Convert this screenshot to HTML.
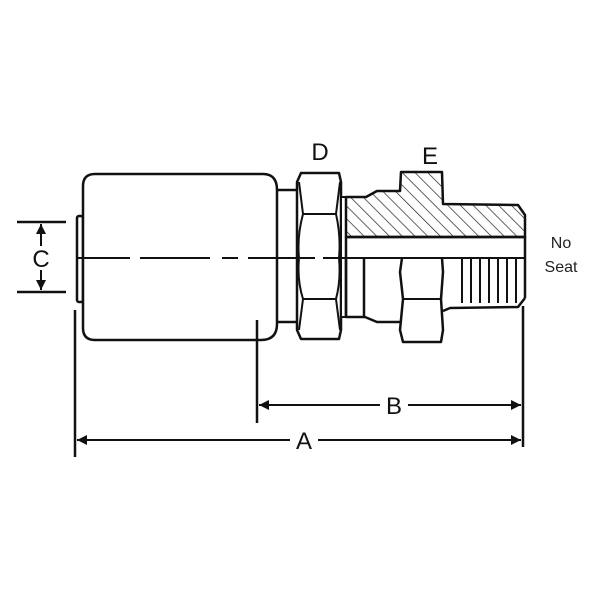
<!DOCTYPE html>
<html><head><style>body{margin:0;background:#fff}svg{display:block}</style></head><body>
<svg width="600" height="600" viewBox="0 0 600 600" xmlns="http://www.w3.org/2000/svg">
<defs>
<pattern id="h" patternUnits="userSpaceOnUse" width="9" height="9" patternTransform="rotate(-45)">
<line x1="0" y1="0" x2="0" y2="9" stroke="#222" stroke-width="1.4"/>
</pattern>
<marker id="ar" viewBox="0 0 10 10" refX="10" refY="5" markerWidth="16" markerHeight="10" orient="auto" markerUnits="userSpaceOnUse"><path d="M0,0L10,5L0,10z" fill="#111"/></marker>
</defs>
<g fill="none" stroke="#111" stroke-width="2.5" stroke-linejoin="round">
<rect x="77" y="216" width="6" height="86" rx="2"/>
<path d="M83,186 Q83,174 95,174 L263,174 Q277,174 277,190 L277,324 Q277,340 261,340 L95,340 Q83,340 83,328 Z" fill="#fff"/>
<path d="M277,190 L297,190 M277,322 L297,322"/>
<path d="M301,173 L339,173 L341,182 L341,330 L339,339 L301,339 L297,330 L297,182 Z" fill="#fff"/>
<path d="M299,182 L303,214 L336,214 L340,182 M303,214 Q297,236 299,258 Q297,280 303,299 M336,214 Q341,236 339,258 Q341,280 336,299 M303,299 L336,299 M303,299 L299,330 M336,299 L340,330" stroke-width="2"/>
<rect x="341" y="197" width="5" height="120" fill="#fff" stroke-width="2"/>
<path d="M346,197 L366,197 L377,191 L400,191 L401,172 L442,172 L443,204 L518,205 L525,215 L525,237 L346,237 Z" fill="url(#h)"/>
<path d="M346,237 L525,237 L525,298 M346,237 L346,317"/>
<path d="M346,258 L346,317 L365,317 L377,322 L402,322 M364,258 L364,317"/>
<path d="M402,258 L400,272 L403,299 L400,330 L403,342 L441,342 L443,330 L441,299 L443,272 L442,258" fill="#fff"/>
<path d="M403,299 L441,299" stroke-width="2"/>
<path d="M443,311 L450,308 L518,307 L525,298"/>
<path d="M462,258 L462,303 M471,258 L471,303 M480,258 L480,303 M489,258 L489,303 M498,258 L498,303 M507,258 L507,303 M516,258 L516,303" stroke-width="2"/>
<path d="M77,258 L130,258 M140,258 L210,258 M222,258 L238,258 M248,258 L297,258 M300,258 L315,258 M323,258 L346,258 M346,258 L525,258" stroke-width="2"/>
<path d="M17,222 L66,222 M17,292 L66,292"/>
<line x1="41" y1="246" x2="41" y2="224" stroke-width="2" marker-end="url(#ar)"/>
<line x1="41" y1="270" x2="41" y2="290" stroke-width="2" marker-end="url(#ar)"/>
<path d="M75,310 L75,457 M257,320 L257,423 M523,306 L523,447"/>
<line x1="380" y1="405" x2="259" y2="405" stroke-width="2" marker-end="url(#ar)"/>
<line x1="408" y1="405" x2="521" y2="405" stroke-width="2" marker-end="url(#ar)"/>
<line x1="290" y1="440" x2="77" y2="440" stroke-width="2" marker-end="url(#ar)"/>
<line x1="318" y1="440" x2="521" y2="440" stroke-width="2" marker-end="url(#ar)"/>
</g>
<g font-family="Liberation Sans, sans-serif" fill="#111" text-anchor="middle">
<text x="41" y="267" font-size="24">C</text>
<text x="320" y="160" font-size="24">D</text>
<text x="430" y="164" font-size="24">E</text>
<text x="394" y="414" font-size="24">B</text>
<text x="304" y="449" font-size="24">A</text>
<text x="561" y="248" font-size="16" fill="#222">No</text>
<text x="561" y="272" font-size="16" fill="#222">Seat</text>
</g>
</svg>
</body></html>
